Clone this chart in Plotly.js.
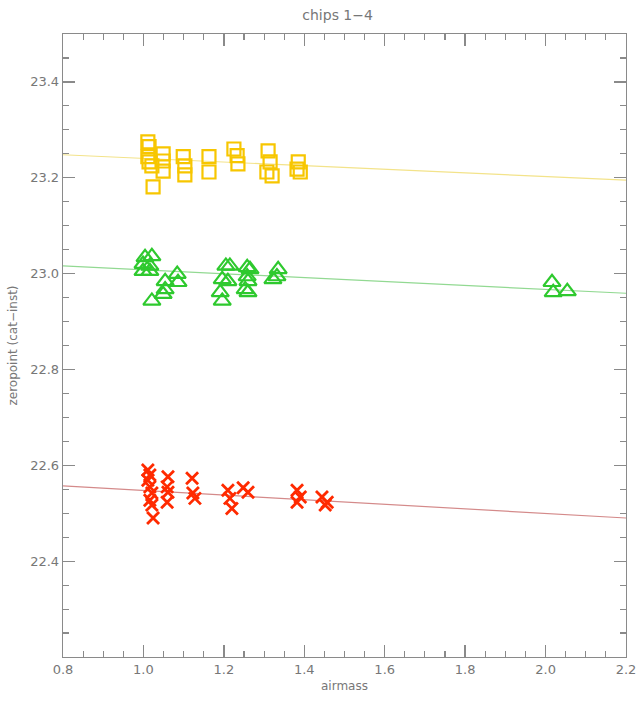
<!DOCTYPE html>
<html>
<head>
<meta charset="utf-8">
<script src="https://cdn.plot.ly/plotly-3.0.1.min.js"></script>
<style>html,body{margin:0;padding:0;background:#fff;}#chart{width:637px;height:702px;}</style>
</head>
<body>
<div id="chart"></div>
<script>
// Chip group 1 (yellow squares)
const yellowX = [1.011,1.014,1.011,1.014,1.021,1.024,1.049,1.049,1.049,1.099,1.103,1.103,1.163,1.163,1.225,1.233,1.235,1.310,1.315,1.307,1.320,1.385,1.382,1.390];
const yellowY = [23.275,23.265,23.244,23.233,23.225,23.181,23.250,23.235,23.214,23.244,23.225,23.206,23.244,23.212,23.260,23.246,23.229,23.256,23.233,23.212,23.204,23.233,23.218,23.212];
// Chip group 2 (green triangles)
const greenX = [1.004,1.021,0.999,1.016,0.999,1.016,1.021,1.054,1.054,1.049,1.084,1.086,1.205,1.215,1.196,1.210,1.191,1.196,1.258,1.265,1.258,1.260,1.253,1.260,1.335,1.332,1.322,2.016,2.019,2.054];
const greenY = [23.034,23.036,23.020,23.016,23.005,23.005,22.943,22.984,22.967,22.957,22.999,22.982,23.016,23.016,22.988,22.984,22.961,22.943,23.013,23.009,22.994,22.984,22.967,22.961,23.009,22.994,22.988,22.982,22.961,22.963];
// Chip group 3 (red crosses)
const redX = [1.011,1.016,1.011,1.016,1.021,1.016,1.021,1.024,1.061,1.059,1.061,1.059,1.121,1.123,1.128,1.210,1.215,1.220,1.248,1.260,1.382,1.390,1.382,1.444,1.452,1.457];
const redY = [22.590,22.580,22.569,22.555,22.542,22.527,22.517,22.490,22.576,22.555,22.544,22.523,22.573,22.542,22.531,22.548,22.531,22.510,22.553,22.544,22.548,22.534,22.523,22.534,22.517,22.523];
// Fit lines
const fitX = [0.8, 2.2];
const yellowFit = [23.248, 23.195];
const greenFit = [23.016, 22.959];
const redFit = [22.557, 22.490];

const traces = [
  {x: fitX, y: yellowFit, mode: 'lines', line: {color: '#f3e38a', width: 1.2}, hoverinfo: 'skip'},
  {x: fitX, y: greenFit, mode: 'lines', line: {color: '#92d992', width: 1.2}, hoverinfo: 'skip'},
  {x: fitX, y: redFit, mode: 'lines', line: {color: '#d48a8a', width: 1.2}, hoverinfo: 'skip'},
  {x: yellowX, y: yellowY, mode: 'markers', marker: {symbol: 'square-open', size: 13, color: '#f7c600', line: {width: 2.2, color: '#f7c600'}}},
  {x: greenX, y: greenY, mode: 'markers', marker: {symbol: 'triangle-up-open', size: 15, color: '#2ec92e', line: {width: 2.2, color: '#2ec92e'}}},
  {x: redX, y: redY, mode: 'markers', marker: {symbol: 'x-thin-open', size: 12, color: '#ff2a00', line: {width: 2.8, color: '#ff2a00'}}}
];

const axisCommon = {
  showgrid: false, zeroline: false, showline: true, linecolor: '#8a8a8a', linewidth: 1.3,
  mirror: 'ticks', ticks: 'inside', ticklen: 12, tickcolor: '#8a8a8a', tickwidth: 1.3,
  tickfont: {family: 'DejaVu Sans, sans-serif', size: 13, color: '#777'},
  minor: {ticks: 'inside', ticklen: 6, tickcolor: '#8a8a8a', tickwidth: 1.1}
};

const layout = {
  width: 637, height: 702,
  margin: {l: 63, r: 11, t: 34, b: 45},
  paper_bgcolor: '#fff', plot_bgcolor: '#fff',
  showlegend: false,
  title: {text: 'chips 1\u22124', x: 0.53, xanchor: 'center', y: 0.985, yanchor: 'top', font: {family: 'DejaVu Sans, sans-serif', size: 14, color: '#777'}},
  xaxis: Object.assign({}, axisCommon, {
    range: [0.8, 2.2], tick0: 0.8, dtick: 0.2, tickformat: '.1f',
    minor: Object.assign({}, axisCommon.minor, {dtick: 0.05}),
    title: {text: 'airmass', standoff: 5, font: {family: 'DejaVu Sans, sans-serif', size: 12, color: '#777'}}
  }),
  yaxis: Object.assign({}, axisCommon, {
    range: [22.2, 23.5], tick0: 22.2, dtick: 0.2, tickformat: '.1f',
    minor: Object.assign({}, axisCommon.minor, {dtick: 0.05}),
    tickvals: [22.4, 22.6, 22.8, 23.0, 23.2, 23.4],
    title: {text: 'zeropoint (cat\u2212inst)', standoff: 10, font: {family: 'DejaVu Sans, sans-serif', size: 12, color: '#777'}}
  })
};

Plotly.newPlot('chart', traces, layout, {displayModeBar: false, staticPlot: true});
</script>
</body>
</html>
